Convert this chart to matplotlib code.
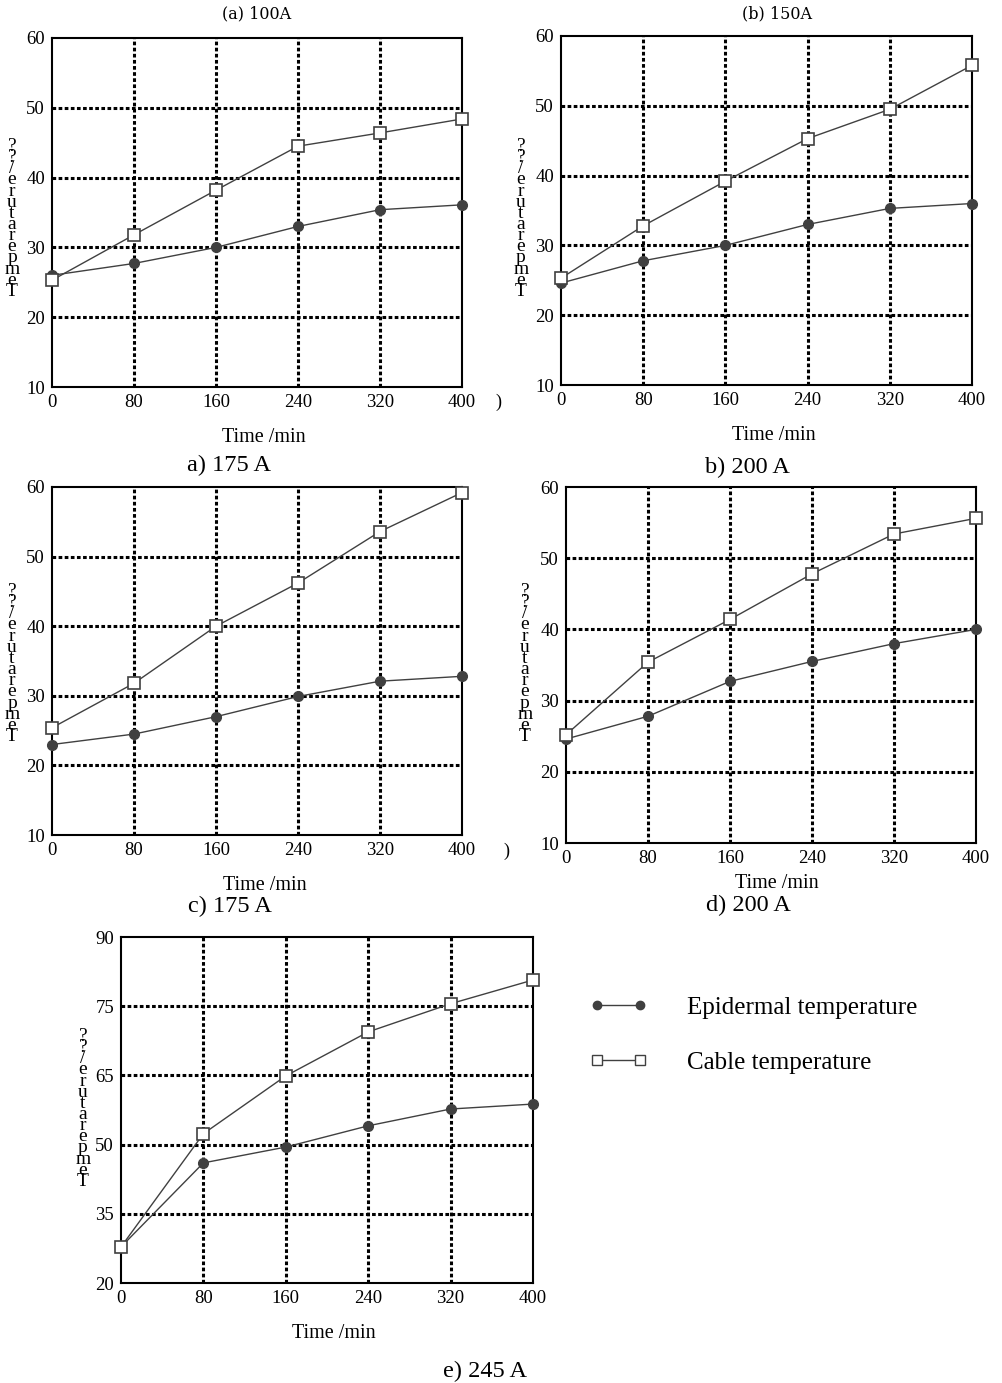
import numpy as np
import matplotlib
matplotlib.use("Agg")
import matplotlib.pyplot as plt
from matplotlib.lines import Line2D

plt.rcParams['font.family'] = ['Liberation Serif', 'DejaVu Serif']

W, H = 1002, 1383

# time axis shared by all panels
time_min = [0, 80, 160, 240, 320, 400]

# panel a) 175 A
epi_a = [26.0, 27.7, 30.0, 33.0, 35.4, 36.1]
cab_a = [25.3, 31.8, 38.2, 44.5, 46.4, 48.4]
# panel b) 200 A
epi_b = [24.6, 27.8, 30.0, 33.0, 35.3, 36.0]
cab_b = [25.3, 32.8, 39.2, 45.3, 49.5, 55.8]
# panel c) 175 A
epi_c = [23.0, 24.5, 27.0, 29.9, 32.1, 32.8]
cab_c = [25.4, 31.8, 40.0, 46.2, 53.6, 59.2]
# panel d) 200 A
epi_d = [24.6, 27.8, 32.7, 35.5, 38.0, 40.0]
cab_d = [25.2, 35.4, 41.4, 47.8, 53.4, 55.6]
# panel e) 245 A
epi_e = [27.3, 44.3, 47.5, 51.8, 55.2, 56.2]
cab_e = [27.3, 50.2, 61.9, 70.8, 76.5, 81.3]

y_ticks_std = [10, 20, 30, 40, 50, 60]
y_ticks_e = [20, 34, 48, 62, 76, 90]
y_labels_e = ['20', '35', '50', '65', '75', '90']

series_names = ['Epidermal temperature', 'Cable temperature']
# garbled vertical y label as it shows in the source, top to bottom
ylabel_chars = ['?', '?', '/', 'e', 'r', 'u', 't', 'a', 'r', 'e', 'p', 'm', 'e', 'T']

fig = plt.figure(figsize=(W / 100, H / 100), dpi=100)


def px(x, y):
    return x / W, 1 - y / H


def make_axes(l, t, r, b):
    return fig.add_axes([l / W, 1 - b / H, (r - l) / W, (b - t) / H])


def draw_panel(ax, epi, cab, yticks, ylabels):
    ax.set_xlim(0, 400)
    ax.set_ylim(yticks[0], yticks[-1])
    ax.set_xticks(time_min)
    ax.set_yticks(yticks)
    ax.set_yticklabels(ylabels)
    ax.tick_params(length=0, labelsize=13.5, pad=5)
    for t in time_min[1:-1]:
        ax.axvline(t, color='black', lw=2.2, ls=(0, (1.2, 0.8)), zorder=1)
    for v in yticks[1:-1]:
        ax.axhline(v, color='black', lw=2.2, ls=(0, (1.2, 0.8)), zorder=1)
    ax.plot(time_min, epi, color='#404040', lw=1, marker='o', ms=7,
            mfc='#404040', mec='#404040', zorder=3, clip_on=False)
    ax.plot(time_min, cab, color='#404040', lw=1, marker='s', ms=8,
            mfc='white', mec='#404040', mew=1.2, zorder=3, clip_on=False)
    for s in ax.spines.values():
        s.set_linewidth(1.5)


panels = [
    ((52, 38, 462, 387), epi_a, cab_a),
    ((561, 36, 972, 385), epi_b, cab_b),
    ((52, 487, 462, 835), epi_c, cab_c),
    ((566, 487, 976, 843), epi_d, cab_d),
]
for box, epi, cab in panels:
    ax = make_axes(*box)
    draw_panel(ax, epi, cab, y_ticks_std, [str(v) for v in y_ticks_std])

ax_e = make_axes(121, 937, 533, 1283)
draw_panel(ax_e, epi_e, cab_e, y_ticks_e, y_labels_e)

# titles and captions
fig.text(*px(257, 14), '(a) 100A', ha='center', va='center', fontsize=11.5, family='DejaVu Serif')
fig.text(*px(777, 14), '(b) 150A', ha='center', va='center', fontsize=11.5, family='DejaVu Serif')
for (x, y), s in [((264, 437), 'Time /min'), ((774, 435), 'Time /min'),
                  ((265, 885), 'Time /min'), ((777, 883), 'Time /min'),
                  ((334, 1333), 'Time /min')]:
    fig.text(*px(x, y), s, ha='center', va='center', fontsize=14.5)
for (x, y), s in [((229, 465), 'a) 175 A'), ((747, 467), 'b) 200 A'),
                  ((230, 906), 'c) 175 A'), ((748, 905), 'd) 200 A'),
                  ((485, 1371), 'e) 245 A')]:
    fig.text(*px(x, y), s, ha='center', va='center', fontsize=17.5)
fig.text(*px(498, 402), ')', ha='center', va='center', fontsize=13)
fig.text(*px(506, 851), ')', ha='center', va='center', fontsize=13)

for x, y in [(12, 138), (521, 138), (12, 583), (525, 583), (83, 1028)]:
    fig.text(*px(x, y), '\n'.join(ylabel_chars), ha='center', va='top',
             fontsize=14, linespacing=0.55)

handles = [
    Line2D([], [], color='#404040', lw=1, marker='o', ms=6, mfc='#404040', mec='#404040'),
    Line2D([], [], color='#404040', lw=1, marker='s', ms=6.5, mfc='white', mec='#404040'),
]
fig.legend(handles, series_names, loc='upper left', bbox_to_anchor=px(567, 974),
           frameon=False, fontsize=18, handlelength=2.3, handletextpad=1.6,
           labelspacing=1.3, numpoints=2)

fig.savefig('out.png', dpi=100)
